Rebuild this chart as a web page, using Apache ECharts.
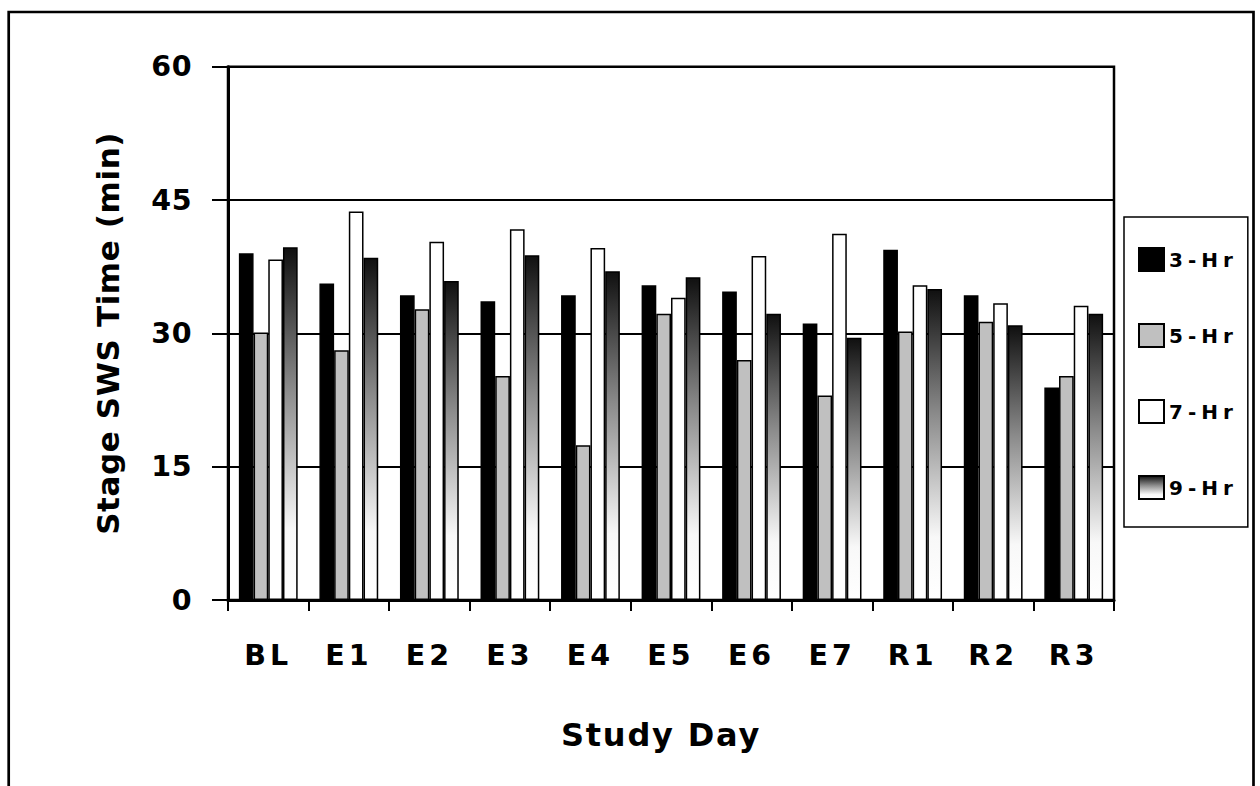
<!DOCTYPE html>
<html>
<head>
<meta charset="utf-8">
<script src="https://cdn.jsdelivr.net/npm/echarts@6/dist/echarts.min.js"></script>
<style>
  html, body { margin: 0; padding: 0; background: #fff; }
  #chart { width: 1260px; height: 786px; }
</style>
</head>
<body>
<div id="chart"></div>
<script>
// ---- data ----
const categories = ['BL', 'E1', 'E2', 'E3', 'E4', 'E5', 'E6', 'E7', 'R1', 'R2', 'R3'];
const seriesNames = ['3-Hr', '5-Hr', '7-Hr', '9-Hr'];
const hr3 = [39.0, 35.6, 34.3, 33.6, 34.3, 35.4, 34.7, 31.1, 39.4, 34.3, 23.9];
const hr5 = [30.1, 28.1, 32.7, 25.2, 17.4, 32.2, 27.0, 23.0, 30.2, 31.3, 25.2];
const hr7 = [38.3, 43.7, 40.3, 41.7, 39.6, 34.0, 38.7, 41.2, 35.4, 33.4, 33.1];
const hr9 = [39.7, 38.5, 35.9, 38.8, 37.0, 36.3, 32.2, 29.5, 35.0, 30.9, 32.2];
const yTicks = { min: 0, max: 60, interval: 15 };

const FONT = "'DejaVu Sans', 'Liberation Sans', Arial, sans-serif";

const chart = echarts.init(document.getElementById('chart'), null, { renderer: 'svg' });

const grad9 = new echarts.graphic.LinearGradient(0, 0, 0, 1, [
  { offset: 0, color: '#101010' },
  { offset: 0.4, color: '#8a8a8a' },
  { offset: 0.8, color: '#f8f8f8' },
  { offset: 1, color: '#ffffff' }
]);

const styles = [
  { color: '#000000', borderColor: '#000000', borderWidth: 1.5 },
  { color: '#c0c0c0', borderColor: '#000000', borderWidth: 1.5 },
  { color: '#ffffff', borderColor: '#000000', borderWidth: 1.5 },
  { color: grad9, borderColor: '#000000', borderWidth: 1.5 }
];
const values = [hr3, hr5, hr7, hr9];

const option = {
  animation: false,
  backgroundColor: '#ffffff',
  grid: {
    left: 228, right: 146, top: 66.7, bottom: 186,
    show: true, borderColor: '#000', borderWidth: 2.5, backgroundColor: 'transparent'
  },
  legend: {
    orient: 'vertical',
    left: 1124, top: 217,
    icon: 'rect',
    itemWidth: 25, itemHeight: 23, itemGap: 51,
    padding: [30, 30, 27, 14],
    borderColor: '#000', borderWidth: 1.5,
    textStyle: { fontFamily: FONT, fontWeight: 'bold', fontSize: 20, color: '#000' },
    data: seriesNames
  },
  xAxis: {
    type: 'category',
    data: categories,
    name: 'Study Day',
    nameLocation: 'middle',
    nameGap: 119,
    nameTextStyle: { fontFamily: FONT, fontWeight: 'bold', fontSize: 32, color: '#000', lineHeight: 32, padding: [0, 20, 0, 0] },
    axisLine: { lineStyle: { color: '#000', width: 3 } },
    axisTick: { show: true, length: 11, lineStyle: { color: '#000', width: 2 } },
    axisLabel: { fontFamily: FONT, fontWeight: 'bold', fontSize: 28.5, color: '#000', margin: 41, lineHeight: 29 },
    splitLine: { show: false }
  },
  yAxis: {
    type: 'value',
    min: yTicks.min, max: yTicks.max, interval: yTicks.interval,
    name: 'Stage SWS Time (min)',
    nameLocation: 'middle',
    nameGap: 105,
    nameTextStyle: { fontFamily: FONT, fontWeight: 'bold', fontSize: 31, color: '#000', lineHeight: 31 },
    axisLine: { show: true, lineStyle: { color: '#000', width: 3 } },
    axisTick: { show: true, length: 16, lineStyle: { color: '#000', width: 2 } },
    axisLabel: { fontFamily: FONT, fontWeight: 'bold', fontSize: 28.5, color: '#000', margin: 36 },
    splitLine: { show: true, lineStyle: { color: '#000', width: 2 } }
  },
  series: seriesNames.map((n, i) => ({
    name: n,
    type: 'bar',
    data: values[i],
    barGap: '0%',
    barCategoryGap: '27%',
    itemStyle: styles[i]
  })),
  graphic: [{
    type: 'rect',
    silent: true,
    z: 100,
    shape: { x: 8.7, y: 12, width: 1244.8, height: 800 },
    style: { fill: 'none', stroke: '#000', lineWidth: 2.7 }
  }]
};

chart.setOption(option);

// expanded letter spacing of the original typography
function spaceLetters() {
  document.querySelectorAll('#chart svg text').forEach(t => {
    const fs = parseFloat(getComputedStyle(t).fontSize);
    let ls = 0;
    const txt = t.textContent || '';
    if (Math.abs(fs - 28.5) < 0.3) ls = /^\d+$/.test(txt) ? 0.5 : 4;
    else if (Math.abs(fs - 20) < 0.3) ls = 5;
    else if (Math.abs(fs - 32) < 0.3) ls = 1.8;
    else if (Math.abs(fs - 31) < 0.3) ls = 0.6;
    if (ls) t.style.letterSpacing = ls + 'px';
  });
}
spaceLetters();
chart.on('finished', spaceLetters);
setTimeout(spaceLetters, 50);
</script>
</body>
</html>
